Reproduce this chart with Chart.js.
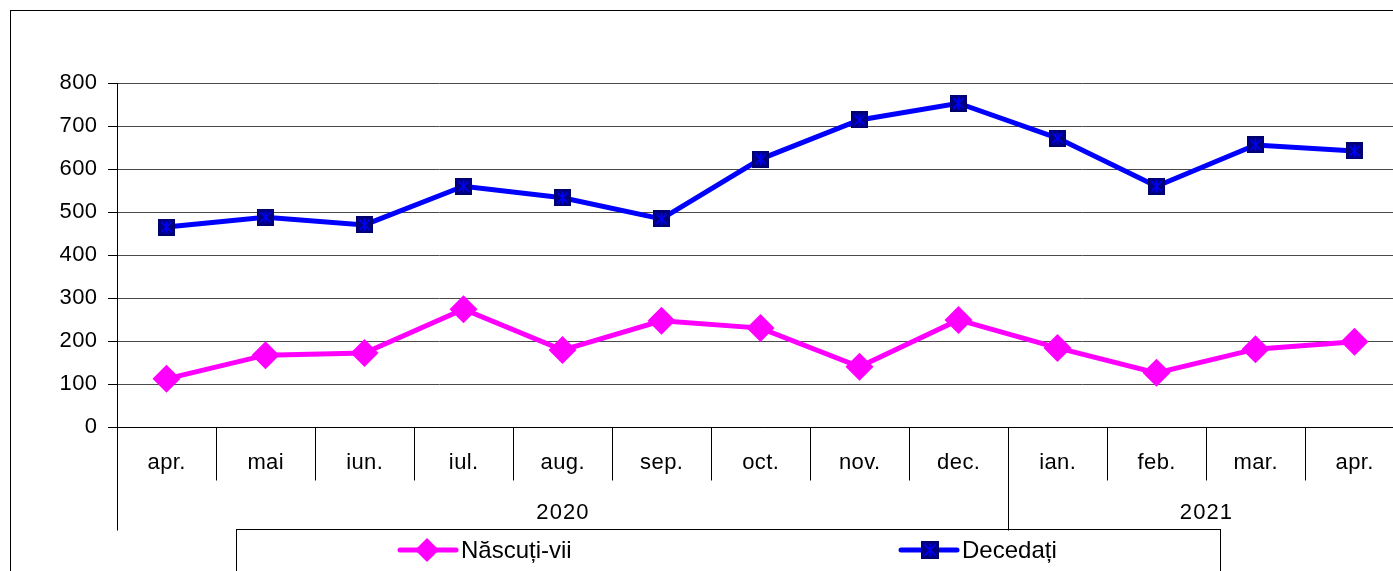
<!DOCTYPE html>
<html>
<head>
<meta charset="utf-8">
<script src="https://cdn.jsdelivr.net/npm/chart.js@4"></script>
<style>
  html, body { margin: 0; padding: 0; background: #fff; overflow: hidden; }
  #wrap { position: absolute; left: 0; top: 0; width: 1420px; height: 571px; }
</style>
</head>
<body>
<div id="wrap"><canvas id="c"></canvas></div>
<script>
const months = ['apr.', 'mai', 'iun.', 'iul.', 'aug.', 'sep.', 'oct.', 'nov.', 'dec.', 'ian.', 'feb.', 'mar.', 'apr.'];
const years = ['2020', '2021'];
const yearMonthCounts = [9, 4];
const nascuti = [112, 167, 172, 274, 179, 247, 230, 140, 249, 184, 126, 181, 198];
const decedati = [465, 488, 470, 560, 533, 484, 623, 714, 753, 672, 560, 656, 642];
const yTicks = [0, 100, 200, 300, 400, 500, 600, 700, 800];
const seriesNames = ['Născuți-vii', 'Decedați'];

const FONT = '"Liberation Sans", Arial, sans-serif';

function makeSquareMarker(size) {
  const cv = document.createElement('canvas');
  cv.width = size; cv.height = size;
  const g = cv.getContext('2d');
  g.fillStyle = '#000080';
  g.fillRect(0, 0, size, size);
  g.strokeStyle = '#00006a';
  g.lineWidth = 1;
  g.strokeRect(0.5, 0.5, size - 1, size - 1);
  g.strokeStyle = '#0000ff';
  g.lineWidth = 1.6;
  const m = 3.5;
  g.beginPath();
  g.moveTo(m, m); g.lineTo(size - m, size - m);
  g.moveTo(size - m, m); g.lineTo(m, size - m);
  g.moveTo(size / 2, 2.5); g.lineTo(size / 2, size - 2.5);
  g.stroke();
  return cv;
}
const sqMarker = makeSquareMarker(17);
const sqMarkerLegend = makeSquareMarker(18);

const decorPlugin = {
  id: 'decor',
  beforeDraw(chart) {
    const ctx = chart.ctx;
    ctx.letterSpacing = '0.4px';
    ctx.save();
    ctx.strokeStyle = '#000';
    ctx.lineWidth = 1;
    ctx.strokeRect(10.5, 10.5, 1400, 600);
    ctx.restore();
  },
  afterDraw(chart) {
    const ctx = chart.ctx;
    const xs = chart.scales.x;
    const area = chart.chartArea;
    const n = months.length;
    const step = xs.getPixelForValue(1) - xs.getPixelForValue(0);
    const left = xs.getPixelForValue(0) - step / 2;
    const y0 = Math.round(area.bottom) + 0.5;
    ctx.save();
    ctx.strokeStyle = '#000';
    ctx.lineWidth = 1;
    // x axis line
    ctx.beginPath();
    ctx.moveTo(left - 9, y0); ctx.lineTo(left + step * n + 20, y0);
    ctx.stroke();
    // month boundaries
    ctx.beginPath();
    for (let i = 0; i <= n; i++) {
      const bx = Math.round(left + step * i) + 0.5;
      ctx.moveTo(bx, y0); ctx.lineTo(bx, y0 + 53);
    }
    // year boundaries
    let acc = 0;
    const bounds = [0];
    yearMonthCounts.forEach(c => { acc += c; bounds.push(acc); });
    bounds.forEach((b, i) => {
      if (i === bounds.length - 1) return;
      const bx = Math.round(left + step * b) + 0.5;
      ctx.moveTo(bx, y0); ctx.lineTo(bx, y0 + 103);
    });
    ctx.stroke();
    // month labels
    ctx.fillStyle = '#000';
    ctx.font = '22px ' + FONT;
    ctx.letterSpacing = '0.4px';
    ctx.textAlign = 'center';
    ctx.textBaseline = 'middle';
    months.forEach((m, i) => {
      ctx.fillText(m, xs.getPixelForValue(i) + 0.2, y0 + 35);
    });
    // year labels
    ctx.letterSpacing = '1.1px';
    years.forEach((yr, i) => {
      const a = left + step * bounds[i];
      const b = left + step * bounds[i + 1];
      ctx.fillText(yr, (a + b) / 2 + 0.5, y0 + 85);
    });
    // legend box
    ctx.strokeRect(236.5, 529.5, 984, 60);
    const ly = 550;
    // item 1
    ctx.strokeStyle = '#ff00ff';
    ctx.lineWidth = 5;
    ctx.lineCap = 'round';
    ctx.beginPath(); ctx.moveTo(400, ly); ctx.lineTo(456, ly); ctx.stroke();
    ctx.fillStyle = '#ff00ff';
    ctx.beginPath();
    ctx.moveTo(427 - 12, ly); ctx.lineTo(427, ly - 12); ctx.lineTo(427 + 12, ly); ctx.lineTo(427, ly + 12);
    ctx.closePath(); ctx.fill();
    ctx.fillStyle = '#000';
    ctx.font = '24px ' + FONT;
    ctx.letterSpacing = '0px';
    ctx.textAlign = 'left';
    ctx.fillText(seriesNames[0], 461, ly + 1);
    // item 2
    ctx.strokeStyle = '#0000ff';
    ctx.beginPath(); ctx.moveTo(901, ly); ctx.lineTo(957, ly); ctx.stroke();
    ctx.drawImage(sqMarkerLegend, 921, ly - 9);
    ctx.fillStyle = '#000';
    ctx.fillText(seriesNames[1], 962, ly + 1);
    ctx.restore();
  }
};

new Chart(document.getElementById('c'), {
  type: 'line',
  data: {
    labels: months,
    datasets: [
      {
        label: seriesNames[0],
        data: nascuti,
        borderColor: '#ff00ff',
        backgroundColor: '#ff00ff',
        borderWidth: 5,
        pointStyle: 'rectRot',
        pointRadius: 14,
        pointHoverRadius: 14,
        pointBorderWidth: 0,
        tension: 0
      },
      {
        label: seriesNames[1],
        data: decedati,
        borderColor: '#0000ff',
        backgroundColor: '#000080',
        borderWidth: 5,
        pointStyle: sqMarker,
        pointRadius: 9,
        pointHoverRadius: 9,
        tension: 0
      }
    ]
  },
  options: {
    responsive: true,
    maintainAspectRatio: false,
    animation: false,
    events: [],
    layout: { padding: { left: 10, top: 83, right: 16, bottom: 144 } },
    plugins: { legend: { display: false }, tooltip: { enabled: false } },
    scales: {
      x: { display: false, offset: true },
      y: {
        min: 0, max: 800,
        afterFit(s) { s.width = 107; },
        afterBuildTicks(s) { s.ticks = yTicks.map(v => ({ value: v })); },
        ticks: { color: '#000', font: { family: FONT, size: 22 }, padding: 10.6 },
        grid: { color: '#4a4a4a', lineWidth: 1, tickLength: 9, tickColor: '#000', drawOnChartArea: true },
        border: { display: true, color: '#000', width: 1 }
      }
    }
  },
  plugins: [decorPlugin]
});
</script>
</body>
</html>
